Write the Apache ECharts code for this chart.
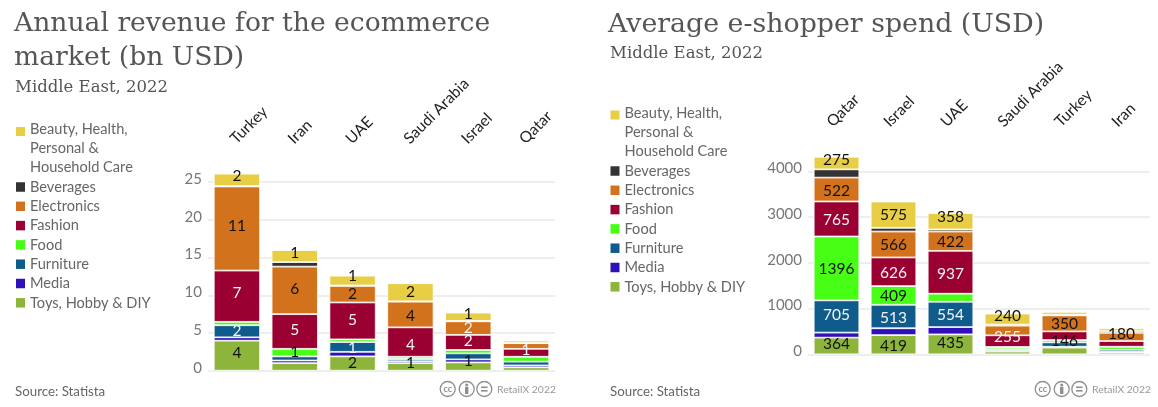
<!DOCTYPE html>
<html><head><meta charset="utf-8">
<style>html,body{margin:0;padding:0;background:#fff}#c{width:1158px;height:407px}</style>
<script src="https://cdn.jsdelivr.net/npm/echarts@6/dist/echarts.min.js"></script>
</head><body><div id="c"></div>
<script>
const seriesNames = ["Toys, Hobby & DIY","Media","Furniture","Food","Fashion","Electronics","Beverages","Beauty, Health, Personal & Household Care"];
const seriesColors = ["#8db53c","#3010b8","#0f5c8c","#46ff14","#9a0032","#d2721d","#333333","#e8ce45"];

const revenueCategories = ["Turkey","Iran","UAE","Saudi Arabia","Israel","Qatar"];
const revenueToys = [3.98,1.0,1.9,1.0,1.1,0.45];
const revenueMedia = [0.45,0.35,0.6,0.25,0.4,0.25];
const revenueFurniture = [1.6,0.55,1.3,0.3,0.8,0.5];
const revenueFood = [0.45,1.0,0.35,0.3,0.45,0.65];
const revenueFashion = [6.8,4.6,4.9,3.9,2.0,1.05];
const revenueElectronics = [11.15,6.3,2.2,3.4,1.8,0.75];
const revenueBeverages = [0.05,0.6,0.05,0.05,0.05,0.05];
const revenueBeauty = [1.65,1.6,1.3,2.4,1.1,0.3];

const revenueLabelToys = [4,null,2,1,1,null];
const revenueLabelFurniture = [2,null,1,null,null,null];
const revenueLabelFood = [null,1,null,null,null,null];
const revenueLabelFashion = [7,5,5,4,2,1];
const revenueLabelElectronics = [11,6,2,4,2,null];
const revenueLabelBeauty = [2,1,1,2,1,null];

const spendCategories = ["Qatar","Israel","UAE","Saudi Arabia","Turkey","Iran"];
const spendToys = [364,419,435,60,146,40];
const spendMedia = [110,150,160,20,20,20];
const spendFurniture = [705,513,554,30,95,40];
const spendFood = [1396,409,175,50,50,65];
const spendFashion = [765,626,937,255,190,125];
const spendElectronics = [522,566,422,210,350,180];
const spendBeverages = [180,80,45,25,15,35];
const spendBeauty = [275,575,358,240,60,60];

const spendLabelToys = [364,419,435,null,146,null];
const spendLabelFurniture = [705,513,554,null,null,null];
const spendLabelFood = [1396,409,null,null,null,null];
const spendLabelFashion = [765,626,937,255,null,null];
const spendLabelElectronics = [522,566,422,null,350,180];
const spendLabelBeauty = [275,575,358,240,null,null];

const none = [null,null,null,null,null,null];
const zero = [0,0,0,0,0,0];
// vertical label nudges (px)
const revenueShift = [[-3,0,-1,-4,-6,0],zero,[0,0,1,0,0,0],[0,-1,0,0,0,0],[-3,-1,-1,3,-1,-3],[-3,-1,0,1,0,0],zero,[-4,-3,-5,0,-3,0]];
const spendShift = [[-2,1,-1,0,-10,0],zero,[-1,1,1,0,0,0],[1,1,0,0,0,0],[1,1,2,-4,0,0],[1,1,1,0,1,-3],zero,[-3,0,-4,-3,0,0]];

const FONT = "Lato";
const SERIF = "DejaVu Serif";
const darkLabel = [false,true,true,false,true,false,true,false];

function buildSeries(values, labels, shifts, idx, whiteCells){
  return values.map((vals,s)=>({
    name: seriesNames[s], type:'bar', stack:'s'+idx, xAxisIndex:idx, yAxisIndex:idx,
    barWidth:'80%', itemStyle:{color:seriesColors[s],borderColor:'#fff',borderWidth:0.8},
    data: vals.map((v,i)=>{
      const t = labels[s][i];
      return {value:v,label:{show:t!==null,position:'inside',formatter:String(t),fontFamily:FONT,fontSize:15.5,
        offset:[0,shifts[s][i]],color:(darkLabel[s]||(whiteCells&&whiteCells[s]===i))?'#f4f4f4':'#111'}};
    })
  }));
}
const revSeries = buildSeries(
  [revenueToys,revenueMedia,revenueFurniture,revenueFood,revenueFashion,revenueElectronics,revenueBeverages,revenueBeauty],
  [revenueLabelToys,none,revenueLabelFurniture,revenueLabelFood,revenueLabelFashion,revenueLabelElectronics,none,revenueLabelBeauty],
  revenueShift,0,{5:4});
const speSeries = buildSeries(
  [spendToys,spendMedia,spendFurniture,spendFood,spendFashion,spendElectronics,spendBeverages,spendBeauty],
  [spendLabelToys,none,spendLabelFurniture,spendLabelFood,spendLabelFashion,spendLabelElectronics,none,spendLabelBeauty],
  spendShift,1);

const wrapName = n => n.startsWith('Beauty') ? "Beauty, Health,\nPersonal &\nHousehold Care" : n;
const legendText = {fontFamily:FONT,fontSize:14.6,color:'#666',lineHeight:19};
const tallIcon = 'path://M0 4.5H10V14.5H0Z M0 0h.01v.01h-.01z M0 57h.01v.01h-.01z';
function legends(x,yTop,yRest){
  return [
   {orient:'vertical',left:x,top:yTop,padding:0,itemGap:0,itemWidth:9,itemHeight:57,selectedMode:false,
    data:[{name:seriesNames[7],icon:tallIcon}],formatter:wrapName,textStyle:legendText,itemStyle:{borderWidth:0}},
   {orient:'vertical',left:x,top:yRest,padding:0,itemGap:0.3,itemWidth:9,itemHeight:9.5,selectedMode:false,icon:'rect',
    data:seriesNames.slice(0,7).reverse(),textStyle:legendText,itemStyle:{borderWidth:0}}
  ];
}
function title(x,y,text,size){
  return {left:x,top:y,text:text,padding:0,textStyle:{fontFamily:SERIF,fontSize:size,fontWeight:'normal',color:'#555',lineHeight:size<20?22:34}};
}
function xAxis(idx,cats,margin,lh){
  return {gridIndex:idx,type:'category',position:'top',data:cats,axisLine:{show:false},axisTick:{show:false},
    axisLabel:{rotate:45,margin:margin,interval:0,fontFamily:FONT,fontSize:15.5,color:'#222',verticalAlign:'bottom',lineHeight:lh}};
}
function yAxis(idx,max,interval){
  return {gridIndex:idx,type:'value',min:0,max:max,interval:interval,axisLine:{show:false},axisTick:{show:false},
    axisLabel:{showMaxLabel:false,margin:6,fontFamily:FONT,fontSize:15,color:'#777',verticalAlign:'bottom',lineHeight:6,formatter:v=>String(v)},
    splitLine:{showMaxLine:false,lineStyle:{color:'#e8e8e8',width:1.5}}};
}
function footer(dx){
  const g='#8f8f8f';
  const c=(x)=>({type:'circle',shape:{cx:x+dx,cy:389,r:7.5},style:{fill:'#fff',stroke:g,lineWidth:1.3},silent:true});
  return [
    c(447.7),c(466.7),c(484.3),
    {type:'text',x:447.7+dx,y:389,style:{text:'cc',fill:g,font:'bold 9px "'+FONT+'"',align:'center',verticalAlign:'middle'},silent:true},
    {type:'circle',shape:{cx:466.7+dx,cy:385,r:1.5},style:{fill:g},silent:true},
    {type:'rect',shape:{x:465+dx,y:387,width:3.4,height:7},style:{fill:g},silent:true},
    {type:'rect',shape:{x:481+dx,y:386.5,width:6.6,height:1.6},style:{fill:g},silent:true},
    {type:'rect',shape:{x:481+dx,y:390,width:6.6,height:1.6},style:{fill:g},silent:true},
    {type:'text',x:497+dx,y:390,style:{text:'RetailX 2022',fill:'#999',font:'10.4px "'+FONT+'"',verticalAlign:'middle'},silent:true},
    {type:'text',x:15+dx,y:391.5,style:{text:'Source: Statista',fill:'#666',font:'13.3px "'+FONT+'"',verticalAlign:'middle'},silent:true}
  ];
}
const chart = echarts.init(document.getElementById('c'),null,{renderer:'canvas'});
chart.setOption({
  animation:false,backgroundColor:'#fff',
  title:[
    title(14,7,"Annual revenue for the ecommerce\nmarket (bn USD)",26.6),
    title(15,77,"Middle East, 2022",16.5),
    title(608,8,"Average e-shopper spend (USD)",26.8),
    title(610,43,"Middle East, 2022",16.5)
  ],
  legend:[...legends(16,120,177.5),...legends(610.5,103.5,161.5)],
  grid:[
    {left:208,top:167.1,width:347,height:203.6,containLabel:false},
    {left:808,top:148.4,width:342,height:205.9,containLabel:false}
  ],
  xAxis:[xAxis(0,revenueCategories,22,11.3),xAxis(1,spendCategories,17,20)],
  yAxis:[yAxis(0,27,5),yAxis(1,4500,1000)],
  series:[...revSeries,...speSeries],
  graphic:{elements:[...footer(0),...footer(595)]}
});
</script></body></html>
